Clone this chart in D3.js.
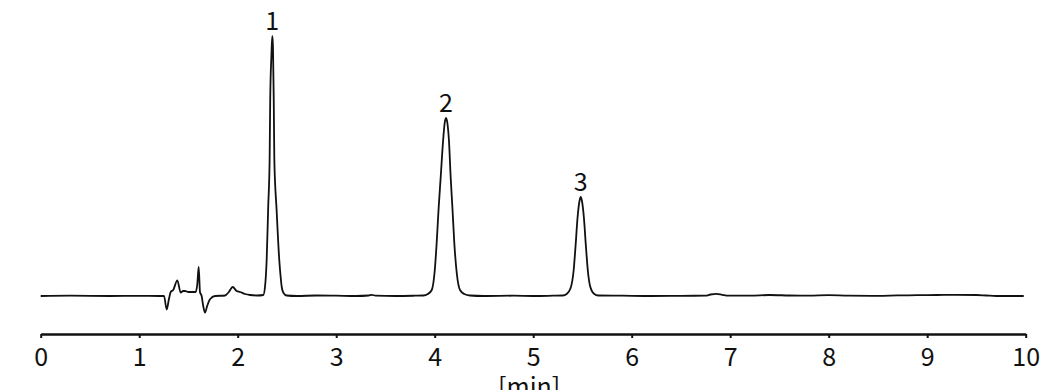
<!DOCTYPE html>
<html>
<head>
<meta charset="utf-8">
<script src="https://cdn.jsdelivr.net/npm/d3@7"></script>
<style>
  html,body{margin:0;padding:0;background:#fff;}
  text{font-family:"Noto Sans CJK JP","Noto Sans",sans-serif;fill:#111;}
</style>
</head>
<body>
<div id="chart"></div>
<script>
// retention time [min] and detector signal (arb. units, 0 = baseline)
var traceTime=[0,0.3,0.7,1.0,1.2,1.252,1.279,1.300,1.320,1.345,1.387,1.421,1.445,1.465,1.500,1.533,1.574,1.590,1.604,1.617,1.634,1.650,1.668,1.690,1.719,1.770,1.871,1.910,1.949,1.990,2.023,2.075,2.125,2.20,2.26,2.277,2.294,2.310,2.324,2.330,2.342,2.351,2.358,2.366,2.372,2.395,2.422,2.437,2.447,2.465,2.497,2.6,2.8,3.0,3.2,3.33,3.36,3.40,3.6,3.8,3.884,3.930,3.970,4.000,4.020,4.040,4.061,4.085,4.100,4.115,4.130,4.145,4.162,4.180,4.199,4.225,4.257,4.300,4.358,4.5,4.8,5.0,5.2,5.30,5.34,5.38,5.41,5.43,5.45,5.47,5.482,5.495,5.515,5.535,5.555,5.58,5.62,5.66,5.9,6.2,6.5,6.75,6.80,6.86,6.92,6.98,7.2,7.4,7.6,7.8,8.0,8.2,8.5,8.7,8.9,9.1,9.3,9.5,9.6,9.7,9.98];
var traceSignal=[0,0.3,0,0.2,0,0,-13.5,-4,4,6,15.7,3.4,5,5,4,4,4,12,29,4,0,-10,-16.6,-10,-3.3,0,0.5,4,9,5,4,2,1,0.5,1,9,36,90,136,196,240,260,250,196,136,86,36,18,9,3,0.5,0,0.5,0.3,0,0.5,1.2,0.3,0,0.3,0.5,2,6,25,53,88,119,155,172,178,172,155,119,88,53,22,6,2,0.5,0,0.3,0,0.3,0.5,2,8,25,50,78,95,99,95,78,50,25,9,2,0.5,0.3,0,0.2,0.3,1.5,2.2,1.2,0.3,0.3,1,0.5,0.3,0.8,0.3,0.2,0.6,0.8,1,1.2,1,0.5,0,0];
var peakTimes=[2.351,4.115,5.482];
var peakLabels=["1","2","3"];
var xTicks=[0,1,2,3,4,5,6,7,8,9,10];
var xLabel="[min]";

var ww=1059,hh=390;
var x=d3.scaleLinear().domain([0,10]).range([40.7,1025.7]),
    y=d3.scaleLinear().domain([0,260]).range([296,36]);
var axisY=334;

var svg=d3.select("#chart").append("svg")
    .attr("width",ww)
    .attr("height",hh);

var pts=traceTime.map(function(t,i){return [t,traceSignal[i]];});
var line=d3.line()
    .x(function(d){return x(d[0]);})
    .y(function(d){return y(d[1]);})
    .curve(d3.curveMonotoneX);

svg.append("path")
    .datum(pts)
    .attr("d",line)
    .attr("fill","none")
    .attr("stroke","#111")
    .attr("stroke-width",1.8)
    .attr("stroke-linejoin","round");

// peak numbers above each apex
svg.selectAll("text.peak")
    .data(peakTimes).enter()
    .append("text")
    .attr("class","peak")
    .attr("x",function(d){return x(d);})
    .attr("y",function(d){
        var i=traceTime.indexOf(d);
        return y(traceSignal[i])-6;})
    .attr("text-anchor","middle")
    .attr("font-size",25)
    .text(function(d,i){return peakLabels[i];});

// x axis
var xAxis=d3.axisBottom(x).tickValues(xTicks).tickSize(4).tickPadding(10).tickSizeOuter(0);
var gx=svg.append("g")
    .attr("transform","translate(0,"+axisY+")")
    .call(xAxis);
gx.select(".domain").attr("stroke","#111").attr("stroke-width",2.5);
gx.selectAll(".tick line").attr("stroke","#111").attr("stroke-width",2);
gx.selectAll(".tick text")
    .attr("font-size",25)
    .attr("font-family","\"Noto Sans CJK JP\",\"Noto Sans\",sans-serif")
    .attr("fill","#111");

svg.append("text")
    .attr("x",x(5)-4)
    .attr("y",axisY+62)
    .attr("text-anchor","middle")
    .attr("font-size",25)
    .text(xLabel);
</script>
</body>
</html>
